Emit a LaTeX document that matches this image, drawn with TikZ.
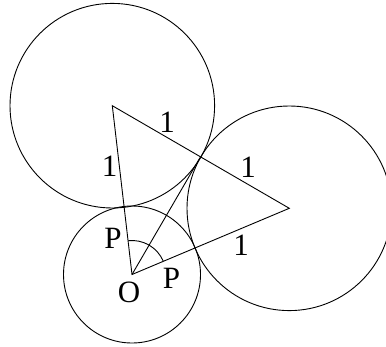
\documentclass[tikz,border=0pt]{standalone}
\usepackage{fontspec}
\setmainfont{Liberation Serif}
\begin{document}
\begin{tikzpicture}[x=1pt,y=1pt,line width=0.9pt,
  lbl/.style={inner sep=0pt,anchor=center,font=\fontsize{31}{35}\selectfont}]
\useasboundingbox (0,0) rectangle (386,346);
\coordinate (O) at (132,71.5);
\coordinate (A) at (112.3,240.3);
\coordinate (B) at (289.3,137.7);
\coordinate (T) at (200,188.3);
\draw (A) circle (102.3pt);
\draw (B) circle (102.3pt);
\draw (O) circle (68.5pt);
\draw (O) -- (A) -- (B) -- cycle;
\draw (O) -- (T);
\draw ([shift={(96.66:34pt)}]O) arc[start angle=96.66,end angle=22.8,radius=34pt];
\node[lbl] (l1) at (109.5,179.5) {1};
\node[lbl] (l2) at (167,224) {1};
\node[lbl] (l3) at (248,179) {1};
\node[lbl] (l4) at (241,101) {1};
\node[lbl] (p1) at (113,107.5) {P};
\node[lbl] (p2) at (171.5,68) {P};
\node[lbl] (o) at (129,53.5) {O};
\end{tikzpicture}
\end{document}
